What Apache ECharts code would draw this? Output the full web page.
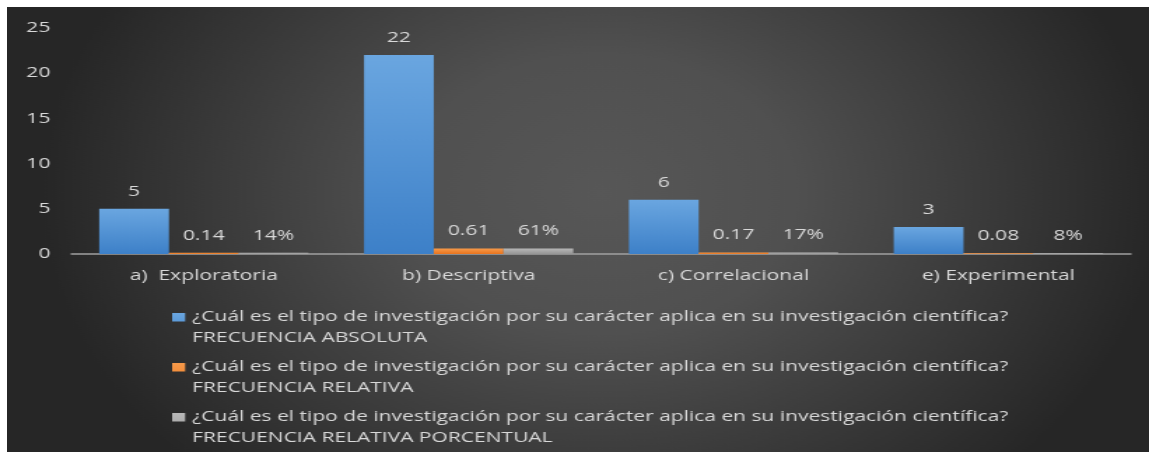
<!DOCTYPE html>
<html>
<head>
<meta charset="utf-8">
<script src="https://cdn.jsdelivr.net/npm/echarts@6/dist/echarts.min.js"></script>
<style>
html,body{margin:0;padding:0;background:#ffffff;width:1149px;height:452px;overflow:hidden;}
#chart{position:absolute;left:7px;top:7px;width:816px;height:445px;transform:scaleX(1.3995);transform-origin:0 0;}
</style>
</head>
<body>
<div id="chart"></div>
<script>
const categories = ['a)  Exploratoria', 'b) Descriptiva', 'c) Correlacional', 'e) Experimental'];
const seriesNames = [
  '¿Cuál es el tipo de investigación por su carácter aplica en su investigación científica?\nFRECUENCIA ABSOLUTA',
  '¿Cuál es el tipo de investigación por su carácter aplica en su investigación científica?\nFRECUENCIA RELATIVA',
  '¿Cuál es el tipo de investigación por su carácter aplica en su investigación científica?\nFRECUENCIA RELATIVA PORCENTUAL'
];
const absoluta = [5, 22, 6, 3];
const relativa = [0.14, 0.61, 0.17, 0.08];
const porcentual = [0.14, 0.61, 0.17, 0.08];
const yTicks = [0, 5, 10, 15, 20, 25];

const FONT = 'Open Sans';
const TXT = '#d9d9d9';

const chart = echarts.init(document.getElementById('chart'));
const labelBase = {show: true, position: 'top', distance: 10, color: TXT, fontFamily: FONT, fontSize: 15};

chart.setOption({
  backgroundColor: {
    type: 'radial', x: 0.52, y: 0.42, r: 0.9,
    colorStops: [{offset: 0, color: '#575757'}, {offset: 0.35, color: '#505050'}, {offset: 1, color: '#262626'}]
  },
  animation: false,
  textStyle: {fontFamily: FONT},
  grid: {left: 46, right: 13, top: 21, bottom: 198},
  legend: {
    orient: 'vertical', left: 118, top: 299, padding: 0,
    itemWidth: 9.3, itemHeight: 30, itemGap: 8,
    icon: 'path://M0,0L10,0L10,9L0,9Z M0,30L10,30',
    textStyle: {color: TXT, fontFamily: FONT, fontSize: 15, lineHeight: 21},
    data: seriesNames
  },
  xAxis: {
    type: 'category', data: categories,
    axisLine: {lineStyle: {color: '#a0a0a0', width: 1.5}},
    axisTick: {show: false},
    axisLabel: {color: TXT, fontFamily: FONT, fontSize: 15, margin: 14}
  },
  yAxis: {
    type: 'value', min: yTicks[0], max: yTicks[yTicks.length - 1], interval: 5,
    axisLine: {show: false}, axisTick: {show: false},
    splitLine: {show: false},
    axisLabel: {color: TXT, fontFamily: FONT, fontSize: 15, margin: 15}
  },
  series: [
    {
      name: seriesNames[0], type: 'bar', data: absoluta,
      barGap: '0%', barCategoryGap: '21%',
      itemStyle: {color: {type: 'linear', x: 0, y: 0, x2: 0, y2: 1,
        colorStops: [{offset: 0, color: '#6aa6e0'}, {offset: 1, color: '#3d80c8'}]}},
      label: Object.assign({}, labelBase)
    },
    {
      name: seriesNames[1], type: 'bar', data: relativa,
      itemStyle: {color: {type: 'linear', x: 0, y: 0, x2: 0, y2: 1,
        colorStops: [{offset: 0, color: '#f79a4a'}, {offset: 1, color: '#e8741e'}]}},
      label: Object.assign({}, labelBase, {formatter: p => p.value.toFixed(2)})
    },
    {
      name: seriesNames[2], type: 'bar', data: porcentual,
      itemStyle: {color: {type: 'linear', x: 0, y: 0, x2: 0, y2: 1,
        colorStops: [{offset: 0, color: '#b8b8b8'}, {offset: 1, color: '#959595'}]}},
      label: Object.assign({}, labelBase, {formatter: p => Math.round(p.value * 100) + '%'})
    }
  ]
});
</script>
</body>
</html>
